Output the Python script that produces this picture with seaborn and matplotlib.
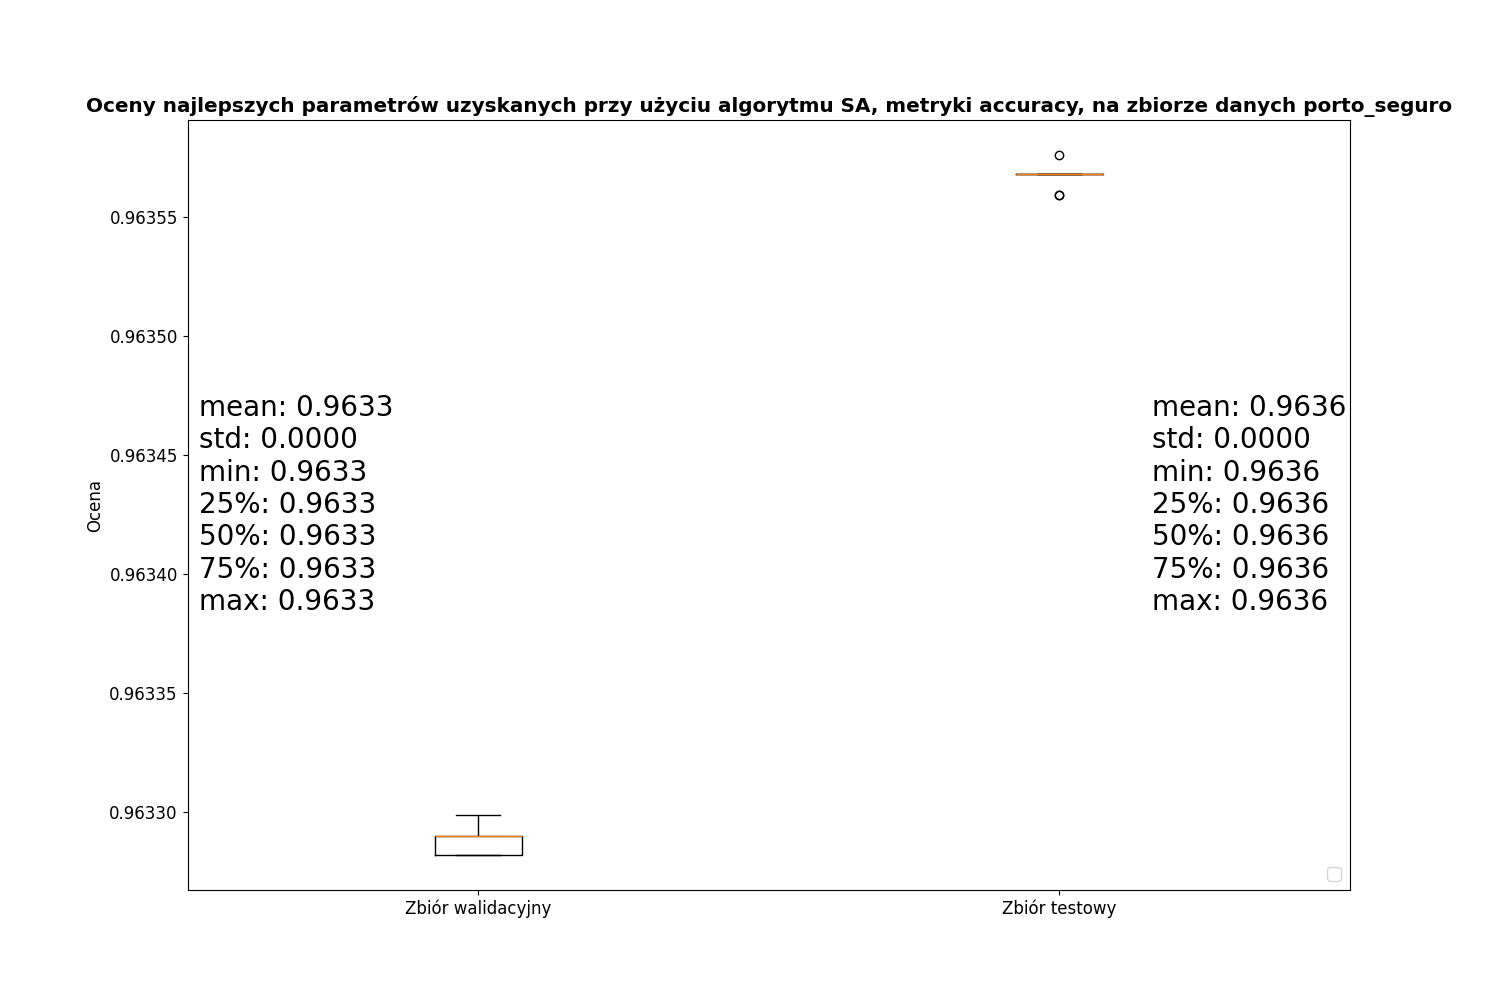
import numpy as np
import pandas as pd
import matplotlib
matplotlib.use('Agg')
import matplotlib.pyplot as plt
import seaborn as sns

# oceny najlepszych parametrow
walidacyjny = [0.963282, 0.963282, 0.963290, 0.963290, 0.963299]
testowy = [0.963559, 0.963559, 0.963568, 0.963568, 0.963568,
           0.963568, 0.963568, 0.963568, 0.963576]
zbiory = ['Zbiór walidacyjny', 'Zbiór testowy']
tytul = 'Oceny najlepszych parametrów uzyskanych przy użyciu algorytmu SA, metryki accuracy, na zbiorze danych porto_seguro'


def opis(values):
    d = pd.Series(values).describe().drop('count')
    return '\n'.join('%s: %.4f' % (k, v) for k, v in d.items())


df = pd.DataFrame({
    'zbior': [zbiory[0]] * len(walidacyjny) + [zbiory[1]] * len(testowy),
    'ocena': walidacyjny + testowy,
})

fig, ax = plt.subplots(figsize=(15, 10), dpi=100)
plt.subplots_adjust(left=0.125, right=0.9, top=0.88, bottom=0.11)

sns.boxplot(data=df, x='zbior', y='ocena', order=zbiory, ax=ax,
            width=0.15, fill=False, color='black', linewidth=1,
            medianprops={'color': '#ff7f0e', 'linewidth': 1},
            flierprops={'marker': 'o', 'markerfacecolor': 'none',
                        'markeredgecolor': 'black', 'markersize': 6})

ax.text(0.01, 0.5, opis(walidacyjny), transform=ax.transAxes,
        fontsize=20, va='center', ha='left')
ax.text(0.83, 0.5, opis(testowy), transform=ax.transAxes,
        fontsize=20, va='center', ha='left')

ax.set_xlabel('')
ax.set_ylabel('Ocena', fontsize=12)
ax.tick_params(labelsize=12)
ax.ticklabel_format(axis='y', useOffset=False)
ax.set_title(tytul, fontsize=14.4, fontweight='bold')
ax.legend(handles=[], loc='lower right', fontsize=13)

plt.savefig('out.png', dpi=100)
